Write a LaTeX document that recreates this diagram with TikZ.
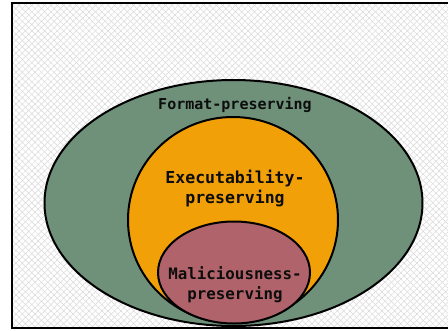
\documentclass[tikz,border=0pt]{standalone}
\usepackage{fontspec}
\setmonofont{DejaVu Sans Mono}
\usetikzlibrary{shapes.geometric,patterns.meta}
\definecolor{setgreen}{RGB}{111,145,122}
\definecolor{setorange}{RGB}{242,160,7}
\definecolor{setred}{RGB}{176,99,106}
\tikzset{
        setnode/.style={ellipse, draw=black, line width=2pt, inner sep=0pt},
        % Format-preserving set
        set_format/.style={setnode, fill=setgreen, minimum width=378pt, minimum height=246pt},
        % Executability-preserving set
        set_exec/.style={setnode, fill=setorange, minimum width=210pt, minimum height=206pt},
        % Maliciousness-preserving set
        set_mal/.style={setnode, fill=setred, minimum width=152pt, minimum height=102pt},
        % Labels
        set_label/.style={align=center, inner sep=0pt, text=black!95}
}
\begin{document}
\begin{tikzpicture}[x=1pt, y=-1pt]
            \useasboundingbox (0,0) rectangle (448,330);
            \clip (0,0) rectangle (448,330);
            \fill[white] (0,0) rectangle (448,330);
            \fill[pattern={Lines[angle=45,distance=4.5pt,line width=0.5pt]}, pattern color=black!15] (12,2.5) rectangle (470,327.5);
            \fill[pattern={Lines[angle=-45,distance=4.5pt,line width=0.5pt]}, pattern color=black!15] (12,2.5) rectangle (470,327.5);
            \node[set_format] (format) at (233.5,203) {};
            \node[set_exec] (exec) at (233,220) {};
            \node[set_mal] (mal) at (234,272.5) {};
            \node[set_label, font=\fontsize{15}{19}\ttfamily\bfseries] (format_label) at (235,105) {Format-preserving};
            \node[set_label, font=\fontsize{16.5}{20}\ttfamily\bfseries] (exec_label) at (235,189) {Executability-\\preserving};
            \node[set_label, font=\fontsize{15.8}{20}\ttfamily\bfseries] (mal_label) at (235,285) {Maliciousness-\\preserving};
            \draw[line width=2pt] (12,2.5) rectangle (470,327.5);
        \end{tikzpicture}
\end{document}
